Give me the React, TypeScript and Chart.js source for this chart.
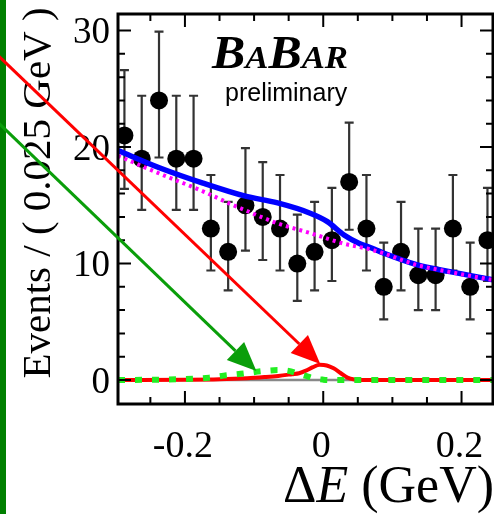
import React, { useEffect, useRef } from "react";
import { Chart, registerables } from "chart.js";

Chart.register(...registerables);

// ---- data ----
const binCenters = [-0.2875, -0.2625, -0.2375, -0.2125, -0.1875, -0.1625, -0.1375, -0.1125, -0.0875, -0.0625, -0.0375, -0.0125, 0.0125, 0.0375, 0.0625, 0.0875, 0.1125, 0.1375, 0.1625, 0.1875, 0.2125, 0.2375];
const eventCounts = [21, 19, 24, 19, 19, 13, 11, 15, 14, 13, 10, 11, 12, 17, 13, 8, 11, 9, 9, 13, 8, 12];
const errorLow = [16.4, 14.6, 19.1, 14.6, 14.6, 9.4, 7.7, 11.1, 10.3, 9.4, 6.8, 7.7, 8.5, 12.9, 9.4, 5.2, 7.7, 6.0, 6.0, 9.4, 5.2, 8.5];
const errorHigh = [26.6, 24.4, 29.9, 24.4, 24.4, 17.6, 15.3, 19.9, 18.7, 17.6, 14.2, 15.3, 16.5, 22.1, 17.6, 11.8, 15.3, 13.0, 13.0, 17.6, 11.8, 16.5];

// total fit (blue)
const totalFitX = [-0.2968, -0.236, -0.174, -0.114, -0.066, -0.018, 0.006, 0.03, 0.053, 0.069, 0.087, 0.135, 0.183, 0.2455];
const totalFitY = [19.7, 18.2, 16.9, 15.8, 15.2, 14.3, 13.6, 12.45, 11.7, 11.35, 10.9, 9.9, 9.3, 8.6];
// background (magenta dotted)
const bkgX = [-0.2968, -0.236, -0.174, -0.13, -0.114, -0.066, -0.018, 0.03, 0.069, 0.087, 0.135, 0.183, 0.2455];
const bkgY = [19.25, 17.7, 16.2, 15.0, 14.6, 13.45, 12.6, 11.7, 11.2, 10.88, 9.88, 9.28, 8.58];
// signal (red)
const signalX = [-0.2968, -0.2, -0.15, -0.11, -0.085, -0.065, -0.045, -0.035, -0.025, -0.015, -0.005, 0.005, 0.015, 0.025, 0.035, 0.045, 0.055, 0.2455];
const signalY = [0, 0.02, 0.06, 0.15, 0.25, 0.35, 0.5, 0.58, 0.8, 1.1, 1.3, 1.25, 1.0, 0.6, 0.2, 0.04, 0, 0];
// peaking component (green dotted)
const peakingX = [-0.2968, -0.25, -0.2, -0.165, -0.14, -0.115, -0.09, -0.065, -0.05, -0.038, -0.025, -0.014, 0.0, 0.01, 0.2455];
const peakingY = [0, 0.02, 0.08, 0.2, 0.4, 0.55, 0.75, 0.85, 0.78, 0.57, 0.35, 0.14, 0.03, 0, 0];
// other component (grey)
const otherX = [-0.2968, 0.2455];
const otherY = [0, 0];

// axes
const xRange = [-0.2968, 0.2455];
const yRange = [-2.06, 31.42];
const xMajorTicks = [-0.2, 0, 0.2];
const xTickLabels = ["-0.2", "0", "0.2"];
const xMinorTicks = [-0.25, -0.15, -0.1, -0.05, 0.05, 0.1, 0.15];
const yMajorTicks = [0, 10, 20, 30];
const yTickLabels = ["0", "10", "20", "30"];
const yMinorTicks = [2, 4, 6, 8, 12, 14, 16, 18, 22, 24, 26, 28];

// annotation arrows (data coordinates)
const arrowFromX = [-0.4809, -0.4809];
const arrowFromY = [28.46, 22.71];
const arrowToX = [-0.0043, -0.0967];
const arrowToY = [1.37, 0.77];
const arrowColors = ["#ff0000", "#0a9e0a"];

const yTitle = "Events / ( 0.025 GeV )";
const SERIF = '"Liberation Serif", "Times New Roman", serif';
const SANS = '"Liberation Sans", Arial, sans-serif';

const toXY = (xs: number[], ys: number[]) => xs.map((x, i) => ({ x, y: ys[i] }));

function drawArrow(ctx: CanvasRenderingContext2D, x0: number, y0: number, x1: number, y1: number, color: string) {
  const ang = Math.atan2(y1 - y0, x1 - x0);
  const headLen = 29;
  const headHalf = 12.5;
  const bx = x1 - headLen * Math.cos(ang);
  const by = y1 - headLen * Math.sin(ang);
  ctx.save();
  ctx.strokeStyle = color;
  ctx.fillStyle = color;
  ctx.lineWidth = 3;
  ctx.beginPath();
  ctx.moveTo(x0, y0);
  ctx.lineTo(bx, by);
  ctx.stroke();
  ctx.beginPath();
  ctx.moveTo(x1, y1);
  ctx.lineTo(bx + headHalf * Math.sin(ang), by - headHalf * Math.cos(ang));
  ctx.lineTo(bx - headHalf * Math.sin(ang), by + headHalf * Math.cos(ang));
  ctx.closePath();
  ctx.fill();
  ctx.restore();
}

const decorPlugin = {
  id: "decor",
  beforeDatasetsDraw(chart: any) {
    const ctx = chart.ctx as CanvasRenderingContext2D;
    const xs = chart.scales.x;
    const ys = chart.scales.y;
    ctx.save();
    ctx.strokeStyle = "#333333";
    ctx.lineWidth = 2.2;
    binCenters.forEach((c, i) => {
      const px = xs.getPixelForValue(c);
      const top = ys.getPixelForValue(errorHigh[i]);
      const bot = ys.getPixelForValue(errorLow[i]);
      ctx.beginPath();
      ctx.moveTo(px, top);
      ctx.lineTo(px, bot);
      ctx.moveTo(px - 4.5, top);
      ctx.lineTo(px + 4.5, top);
      ctx.moveTo(px - 4.5, bot);
      ctx.lineTo(px + 4.5, bot);
      ctx.stroke();
    });
    ctx.restore();
  },
  afterDraw(chart: any) {
    const ctx = chart.ctx as CanvasRenderingContext2D;
    const xs = chart.scales.x;
    const ys = chart.scales.y;
    const a = chart.chartArea;
    ctx.save();
    // frame
    ctx.strokeStyle = "#000";
    ctx.lineWidth = 3;
    ctx.strokeRect(a.left, a.top, a.right - a.left, a.bottom - a.top);
    ctx.lineWidth = 2;
    ctx.beginPath();
    const xt = (v: number, len: number) => {
      const p = xs.getPixelForValue(v);
      ctx.moveTo(p, a.bottom);
      ctx.lineTo(p, a.bottom - len);
      ctx.moveTo(p, a.top);
      ctx.lineTo(p, a.top + len);
    };
    const yt = (v: number, len: number) => {
      const p = ys.getPixelForValue(v);
      ctx.moveTo(a.left, p);
      ctx.lineTo(a.left + len, p);
      ctx.moveTo(a.right, p);
      ctx.lineTo(a.right - len, p);
    };
    xMajorTicks.forEach((v) => xt(v, 13));
    xMinorTicks.forEach((v) => xt(v, 7));
    yMajorTicks.forEach((v) => yt(v, 13));
    yMinorTicks.forEach((v) => yt(v, 7));
    ctx.stroke();

    // tick labels
    ctx.fillStyle = "#000";
    ctx.font = `37px ${SERIF}`;
    ctx.textAlign = "right";
    ctx.textBaseline = "alphabetic";
    yMajorTicks.forEach((v, i) => {
      ctx.fillText(yTickLabels[i], a.left - 8, ys.getPixelForValue(v) + 12.5);
    });
    ctx.font = `38px ${SERIF}`;
    ctx.textAlign = "center";
    xMajorTicks.forEach((v, i) => {
      ctx.fillText(xTickLabels[i], xs.getPixelForValue(v) - 2, a.bottom + 53);
    });

    // x title: ΔE (GeV)
    ctx.textAlign = "left";
    let tx = 283;
    const ty = 502;
    ctx.font = `52px ${SERIF}`;
    ctx.fillText("\u0394", tx, ty);
    tx += ctx.measureText("\u0394").width;
    ctx.font = `italic 52px ${SERIF}`;
    ctx.fillText("E", tx, ty);
    tx += ctx.measureText("E").width;
    ctx.font = `52px ${SERIF}`;
    ctx.fillText(" (GeV)", tx, ty);

    // y title
    ctx.save();
    ctx.translate(50, 193);
    ctx.rotate(-Math.PI / 2);
    ctx.font = `41px ${SERIF}`;
    ctx.textAlign = "center";
    ctx.fillText(yTitle, 0, 0);
    ctx.restore();

    // BaBar logo
    const parts: [string, number][] = [["B", 46], ["A", 32], ["B", 46], ["AR", 32]];
    let w = 0;
    parts.forEach(([t, s]) => {
      ctx.font = `italic bold ${s}px ${SERIF}`;
      w += ctx.measureText(t).width;
    });
    ctx.save();
    ctx.translate(212, 68);
    ctx.scale(136 / w, 1);
    let lx = 0;
    ctx.textAlign = "left";
    parts.forEach(([t, s]) => {
      ctx.font = `italic bold ${s}px ${SERIF}`;
      ctx.fillText(t, lx, 0);
      lx += ctx.measureText(t).width;
    });
    ctx.restore();
    ctx.font = `25px ${SANS}`;
    ctx.textAlign = "left";
    ctx.fillText("preliminary", 225, 101);

    // green bar on the left edge
    ctx.fillStyle = "#008000";
    ctx.fillRect(0, 0, 6, chart.height);

    // arrows
    arrowFromX.forEach((fx, i) => {
      drawArrow(
        ctx,
        xs.getPixelForValue(fx),
        ys.getPixelForValue(arrowFromY[i]),
        xs.getPixelForValue(arrowToX[i]),
        ys.getPixelForValue(arrowToY[i]),
        arrowColors[i]
      );
    });
    ctx.restore();
  },
};

export default function App() {
  const ref = useRef<HTMLCanvasElement | null>(null);
  useEffect(() => {
    if (!ref.current) return;
    const curve = (data: any, color: string, width: number, order: number, dash: number[] = []) => ({
      type: "scatter",
      data,
      showLine: true,
      borderColor: color,
      backgroundColor: color,
      borderWidth: width,
      borderDash: dash,
      pointRadius: 0,
      cubicInterpolationMode: "monotone",
      order,
    });
    const chart = new Chart(ref.current, {
      type: "scatter",
      data: {
        datasets: [
          curve(toXY(peakingX, peakingY), "#22ee22", 6, 1, [7, 10]) as any,
          curve(toXY(signalX, signalY), "#ff0000", 4, 2) as any,
          curve(toXY(otherX, otherY), "#888888", 2.5, 3) as any,
          curve(toXY(bkgX, bkgY), "#ff00ff", 4, 4, [3, 4]) as any,
          curve(toXY(totalFitX, totalFitY), "#0000ff", 5.5, 5) as any,
          {
            type: "scatter",
            data: toXY(binCenters, eventCounts),
            pointRadius: 9,
            pointBackgroundColor: "#000",
            pointBorderWidth: 0,
            showLine: false,
            order: 10,
          } as any,
        ],
      },
      options: {
        animation: false,
        responsive: false,
        devicePixelRatio: 1,
        layout: { autoPadding: false, padding: { left: 118, top: 14, right: 1, bottom: 110 } },
        plugins: { legend: { display: false }, tooltip: { enabled: false } },
        scales: {
          x: { type: "linear", min: xRange[0], max: xRange[1], display: false },
          y: { type: "linear", min: yRange[0], max: yRange[1], display: false },
        },
      },
      plugins: [decorPlugin],
    });
    return () => chart.destroy();
  }, []);
  return (
    <div style={{ position: "fixed", left: 0, top: 0, width: 494, height: 514, background: "#fff" }}>
      <canvas ref={ref} width={494} height={514} style={{ width: 494, height: 514 }} />
    </div>
  );
}
